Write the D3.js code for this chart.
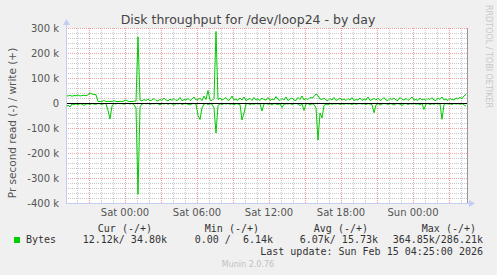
<!DOCTYPE html>
<html>
<head>
<meta charset="utf-8">
<script src="https://cdn.jsdelivr.net/npm/d3@7"></script>
<style>
  html, body { margin: 0; padding: 0; background: #f0f0f0; }
  svg { display: block; }
  text { font-family: "DejaVu Sans", sans-serif; }
  .mono { font-family: "DejaVu Sans Mono", monospace; white-space: pre; }
</style>
</head>
<body>
<svg id="chart" width="497" height="275"></svg>
<script>
// samples every 10 minutes, values in k (bytes per second)
const startTime = Date.UTC(2026, 1, 13, 19, 5);
const stepMinutes = 10;

const writeValues = [
  30, 28, 31, 27, 30, 29, 32, 28, 30, 31, 29, 33, 40, 36, 34, 33, 6, 6, 7, 10,
  6, 7, 6, 6, 9, 6, 6, 7, 6, 8, 12, 7, 6, 6, 7, 8, 265, 12, 8, 14,
  10, 16, 9, 12, 18, 10, 8, 14, 10, 20, 12, 9, 15, 11, 18, 10, 12, 22, 9, 14,
  12, 18, 10, 16, 24, 12, 14, 20, 10, 28, 14, 50, 12, 10, 18, 286, 14, 20, 12, 16,
  22, 10, 14, 28, 12, 16, 10, 20, 12, 24, 10, 14, 18, 10, 22, 12, 16, 10, 20, 14,
  12, 22, 10, 16, 12, 26, 14, 10, 18, 12, 24, 10, 16, 20, 12, 10, 22, 14, 28, 12,
  18, 14, 22, 20, 26, 36, 30, 16, 14, 20, 12, 10, 18, 12, 22, 10, 14, 20, 12, 16,
  10, 18, 12, 22, 10, 14, 12, 20, 10, 16, 12, 24, 10, 14, 18, 12, 20, 10, 14, 22,
  12, 10, 18, 14, 20, 12, 10, 22, 14, 12, 18, 10, 16, 24, 12, 14, 10, 20, 12, 16,
  10, 18, 14, 22, 12, 10, 20, 14, 24, 12, 16, 10, 18, 14, 12, 20, 16, 22, 18, 28, 35
];

const readValues = [
  18, 8, 16, 4, 6, 3, 8, 2, 5, 10, 4, 3, 6, 2, 4, 5, 2, 3, 6, 2,
  3, 30, 64, 12, 2, 4, 1, 3, 2, 5, 2, 1, 4, 2, 6, 20, 365, 15, 4, 2,
  3, 1, 6, 2, 4, 1, 3, 8, 2, 4, 1, 5, 2, 3, 10, 2, 4, 1, 6, 3,
  2, 5, 8, 3, 2, 4, 50, 66, 20, 4, 2, 6, 3, 5, 20, 120, 10, 3, 6, 2,
  4, 2, 5, 3, 8, 2, 4, 6, 68, 40, 4, 2, 6, 3, 5, 2, 4, 3, 32, 4,
  2, 5, 3, 8, 2, 4, 6, 3, 18, 5, 3, 4, 2, 6, 3, 2, 4, 10, 3, 30,
  4, 2, 8, 3, 6, 20, 148, 40, 60, 10, 4, 8, 2, 5, 3, 4, 2, 6, 3, 5,
  2, 4, 3, 6, 2, 5, 3, 2, 4, 3, 6, 2, 4, 6, 39, 8, 2, 8, 4, 2,
  3, 6, 2, 4, 8, 3, 2, 5, 10, 3, 2, 6, 3, 4, 2, 5, 3, 8, 2, 26,
  4, 2, 6, 3, 5, 2, 4, 3, 65, 6, 2, 4, 3, 6, 2, 4, 3, 5, 2, 8, 12
];

const yTicks = [300, 200, 100, 0, -100, -200, -300, -400];
const legendHeaders = ['Cur (-/+)', 'Min (-/+)', 'Avg (-/+)', 'Max (-/+)'];
const legendValues = ['12.12k/ 34.80k', '0.00 /  6.14k', '6.07k/ 15.73k', '364.85k/286.21k'];

const plotLeft = 66, plotRight = 466, plotTop = 28, plotBottom = 203;
const green = '#00cc00';

const endTime = startTime + (writeValues.length - 1) * stepMinutes * 60000;
const timeOf = i => new Date(startTime + i * stepMinutes * 60000);

const x = d3.scaleUtc().domain([startTime, endTime]).range([plotLeft, plotRight]);
const y = d3.scaleLinear().domain([-400, 300]).range([plotBottom, plotTop]);

const svg = d3.select('#chart');

svg.append('rect').attr('width', 497).attr('height', 275).attr('fill', '#f0f0f0');
svg.append('rect')
  .attr('x', plotLeft).attr('y', plotTop)
  .attr('width', plotRight - plotLeft + 1).attr('height', plotBottom - plotTop)
  .attr('fill', '#ffffff');

// grid
const grid = svg.append('g').attr('shape-rendering', 'crispEdges');
const hours = d3.utcHour.every(1).range(new Date(startTime), new Date(endTime));
const minorY = d3.range(-400, 301, 20).filter(v => v % 100 !== 0);

grid.selectAll('.hmin').data(minorY).enter().append('line')
  .attr('x1', plotLeft).attr('x2', plotRight + 1)
  .attr('y1', d => Math.round(y(d)) + 0.5).attr('y2', d => Math.round(y(d)) + 0.5)
  .attr('stroke', '#c8c8c8').attr('stroke-dasharray', '1,1');

grid.selectAll('.vmin').data(hours.filter(d => d.getUTCHours() % 3 !== 0)).enter().append('line')
  .attr('x1', d => Math.round(x(d)) + 0.5).attr('x2', d => Math.round(x(d)) + 0.5)
  .attr('y1', plotTop).attr('y2', plotBottom)
  .attr('stroke', '#c8c8c8').attr('stroke-dasharray', '1,1');

grid.selectAll('.hmaj').data(yTicks).enter().append('line')
  .attr('x1', plotLeft).attr('x2', plotRight + 1)
  .attr('y1', d => Math.round(y(d)) + 0.5).attr('y2', d => Math.round(y(d)) + 0.5)
  .attr('stroke', '#f0a0a0').attr('stroke-dasharray', '1,1');

grid.selectAll('.vmaj').data(hours.filter(d => d.getUTCHours() % 3 === 0)).enter().append('line')
  .attr('x1', d => Math.round(x(d)) + 0.5).attr('x2', d => Math.round(x(d)) + 0.5)
  .attr('y1', plotTop).attr('y2', plotBottom)
  .attr('stroke', '#f0a0a0').attr('stroke-dasharray', '1,1');

// y labels
svg.append('g').selectAll('text').data(yTicks).enter().append('text')
  .attr('x', 59).attr('y', d => y(d) + 3.5)
  .attr('text-anchor', 'end')
  .attr('font-size', 10).attr('fill', '#555')
  .text(d => d === 0 ? '0' : `${d} k`);

// x labels
const fmt = d3.utcFormat('%a %H:%M');
svg.append('g').selectAll('text').data(hours.filter(d => d.getUTCHours() % 6 === 0)).enter().append('text')
  .attr('x', d => x(d)).attr('y', 215.5)
  .attr('text-anchor', 'middle')
  .attr('font-size', 10).attr('fill', '#555')
  .text(d => fmt(d));

// series
const line = d3.line().x((d, i) => x(timeOf(i))).y(d => y(d));
svg.append('path').datum(readValues.map(v => -v))
  .attr('d', line).attr('fill', 'none').attr('stroke', green).attr('stroke-width', 1);
svg.append('path').datum(writeValues)
  .attr('d', line).attr('fill', 'none').attr('stroke', green).attr('stroke-width', 1);

// zero line
svg.append('line')
  .attr('x1', plotLeft).attr('x2', plotRight + 1)
  .attr('y1', Math.round(y(0)) + 0.5).attr('y2', Math.round(y(0)) + 0.5)
  .attr('stroke', '#000').attr('shape-rendering', 'crispEdges');

// axes with arrows
const axisColor = '#c4ccf4';
svg.append('line').attr('x1', plotLeft + 0.5).attr('x2', plotLeft + 0.5).attr('y1', plotBottom + 1).attr('y2', 24)
  .attr('stroke', axisColor).attr('shape-rendering', 'crispEdges');
svg.append('path').attr('d', `M${plotLeft - 3},25 L${plotLeft + 0.5},19 L${plotLeft + 4},25 Z`).attr('fill', axisColor);
svg.append('line').attr('x1', plotLeft).attr('x2', 470).attr('y1', plotBottom + 0.5).attr('y2', plotBottom + 0.5)
  .attr('stroke', axisColor).attr('shape-rendering', 'crispEdges');
svg.append('path').attr('d', `M469,${plotBottom - 3} L475,${plotBottom + 0.5} L469,${plotBottom + 4} Z`).attr('fill', axisColor);
svg.append('line').attr('x1', plotRight + 1.5).attr('x2', plotRight + 1.5).attr('y1', plotTop).attr('y2', plotBottom)
  .attr('stroke', '#999').attr('shape-rendering', 'crispEdges');

// titles
svg.append('text').attr('x', 248).attr('y', 24)
  .attr('text-anchor', 'middle').attr('font-size', 12.5).attr('fill', '#444')
  .text('Disk throughput for /dev/loop24 - by day');

svg.append('text')
  .attr('transform', 'translate(16,123) rotate(-90)')
  .attr('text-anchor', 'middle').attr('font-size', 10.5).attr('fill', '#555')
  .text('Pr second read (-) / write (+)');

svg.append('text')
  .attr('transform', 'translate(486,5) rotate(90)')
  .attr('text-anchor', 'start').attr('font-size', 8).attr('fill', '#c8c8c8')
  .text('RRDTOOL / TOBI OETIKER');

// legend
const headerEnds = [152, 259, 368, 476];
const valueEnds = [167, 273, 378, 483];
const legend = svg.append('g').attr('font-size', 10).attr('fill', '#333');
legend.selectAll('.hdr').data(legendHeaders).enter().append('text')
  .attr('class', 'mono').attr('x', (d, i) => headerEnds[i]).attr('y', 231.5)
  .attr('text-anchor', 'end').text(d => d);
legend.selectAll('.val').data(legendValues).enter().append('text')
  .attr('class', 'mono').attr('x', (d, i) => valueEnds[i]).attr('y', 243)
  .attr('text-anchor', 'end').text(d => d);
legend.append('rect').attr('x', 14).attr('y', 237).attr('width', 6).attr('height', 6).attr('fill', green);
legend.append('text').attr('class', 'mono').attr('x', 26).attr('y', 243).text('Bytes');
legend.append('text').attr('class', 'mono').attr('x', 483).attr('y', 255)
  .attr('text-anchor', 'end').text('Last update: Sun Feb 15 04:25:00 2026');

svg.append('text').attr('x', 248).attr('y', 267)
  .attr('text-anchor', 'middle').attr('font-size', 8).attr('fill', '#c0c0c0')
  .text('Munin 2.0.76');
</script>
</body>
</html>
